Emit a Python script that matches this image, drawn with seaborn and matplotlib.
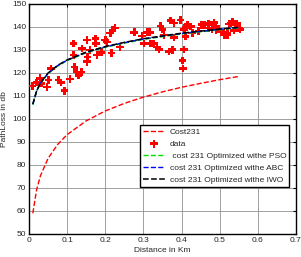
import numpy as np
import pandas as pd
import seaborn as sns
import matplotlib
matplotlib.use("Agg")
import matplotlib.pyplot as plt

data_d = [0.009, 0.02, 0.029, 0.033, 0.047, 0.051, 0.058, 0.077, 0.084, 0.093,
          0.108, 0.117, 0.117, 0.119, 0.125, 0.13, 0.137, 0.139, 0.152, 0.152,
          0.153, 0.16, 0.174, 0.175, 0.178, 0.19, 0.2, 0.204, 0.213, 0.219,
          0.225, 0.216, 0.239, 0.276, 0.296, 0.31, 0.317, 0.301, 0.318, 0.327,
          0.336, 0.341, 0.345, 0.35, 0.354, 0.371, 0.38, 0.367, 0.376, 0.38,
          0.397, 0.402, 0.404, 0.407, 0.41, 0.415, 0.424, 0.41, 0.428, 0.444,
          0.452, 0.46, 0.47, 0.48, 0.49, 0.375, 0.406, 0.454, 0.471, 0.485,
          0.49, 0.48, 0.503, 0.511, 0.52, 0.524, 0.533, 0.542, 0.546, 0.553,
          0.537, 0.529, 0.545, 0.551, 0.52, 0.512]
data_pl = [114.3, 115.8, 117.7, 115.5, 114.0, 117.0, 122.0, 117.0, 115.8, 112.3,
           117.4, 132.9, 127.8, 122.7, 120.5, 119.0, 120.5, 130.7, 134.3, 124.9,
           127.0, 130.0, 135.0, 132.8, 127.8, 129.0, 134.3, 133.5, 137.3, 138.7,
           139.5, 128.6, 131.4, 137.7, 136.0, 137.7, 137.7, 132.9, 132.9, 132.9,
           131.4, 130.3, 140.4, 139.0, 136.5, 142.8, 141.7, 129.3, 130.0, 135.5,
           143.0, 125.4, 122.0, 139.0, 140.0, 140.9, 140.2, 135.8, 137.4, 138.2,
           141.0, 141.0, 139.6, 141.0, 138.8, 130.3, 130.3, 140.9, 141.6, 141.9,
           140.2, 139.0, 138.0, 137.3, 136.5, 141.3, 142.3, 141.6, 139.6, 139.0,
           138.4, 141.6, 141.6, 139.6, 137.4, 136.5]

# model curves
curve_d = [0.01, 0.02, 0.03, 0.05, 0.075, 0.1, 0.15, 0.2, 0.25, 0.3,
           0.35, 0.4, 0.45, 0.5, 0.55]
cost231 = [59.0, 69.3, 75.3, 82.9, 88.9, 93.2, 99.2, 103.5, 106.8, 109.5,
           111.8, 113.8, 115.5, 117.1, 118.5]
pso = [106.2, 112.0, 115.4, 119.7, 123.0, 125.4, 128.8, 131.2, 133.0, 134.6,
       135.8, 137.0, 137.9, 138.8, 139.6]
abc = [106.4, 112.2, 115.6, 119.9, 123.2, 125.6, 129.0, 131.4, 133.2, 134.8,
       136.0, 137.2, 138.1, 139.0, 139.8]
iwo = [106.5, 112.3, 115.7, 120.0, 123.3, 125.7, 129.1, 131.5, 133.3, 134.9,
       136.1, 137.3, 138.2, 139.1, 139.9]

sns.set_style("white")
plt.rcParams['font.family'] = ['Liberation Sans', 'DejaVu Sans']

fig = plt.figure(figsize=(3.01, 2.57), dpi=100)
ax = fig.add_axes([29/301, 23/257, 267/301, 230/257])

sns.lineplot(x=curve_d, y=cost231, color="red", linestyle="--", lw=1, label="Cost231", ax=ax)
sns.scatterplot(x=data_d, y=data_pl, color="red", marker="P", s=30, edgecolor="none",
                label="data", ax=ax, zorder=3)
sns.lineplot(x=curve_d, y=pso, color="#00dd00", linestyle="--", lw=1,
             label=" cost 231 Optimized withe PSO", ax=ax, zorder=4)
sns.lineplot(x=curve_d, y=abc, color="blue", linestyle="--", lw=1,
             label="cost 231 Optimized withe ABC", ax=ax, zorder=5)
sns.lineplot(x=curve_d, y=iwo, color="black", linestyle="--", lw=1.1,
             label="cost 231 Optimized withe IWO", ax=ax, zorder=6)

ax.set_xlim(0, 0.7)
ax.set_ylim(50, 150)
ax.set_xticks(np.arange(0, 0.71, 0.1))
ax.set_xticklabels(["0", "0.1", "0.2", "0.3", "0.4", "0.5", "0.6", "0.7"])
ax.set_yticks(range(50, 151, 10))
ax.grid(True, color="#909090", lw=0.6)
ax.tick_params(direction="in", length=2, labelsize=6, top=True, right=True,
               color="black", pad=2)
for s in ax.spines.values():
    s.set_color("black")
    s.set_linewidth(1)
ax.set_xlabel("Distance in Km", fontsize=6, labelpad=2)
ax.set_ylabel("PathLoss in db", fontsize=6, labelpad=3)

leg = ax.legend(loc="upper left", bbox_to_anchor=(107/267, 113/230), fontsize=6,
                frameon=True, fancybox=False, framealpha=1, edgecolor="black",
                handlelength=2.6, labelspacing=0.5, borderpad=0.35, handletextpad=0.6)
leg.get_frame().set_linewidth(1)

fig.savefig("out.png", dpi=100)
